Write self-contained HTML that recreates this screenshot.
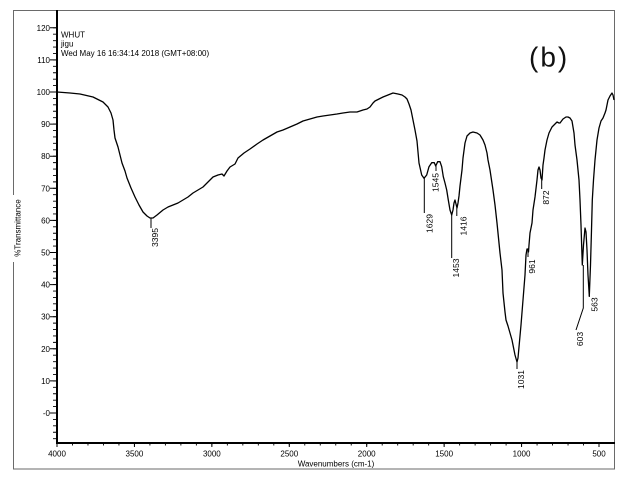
<!DOCTYPE html>
<html><head><meta charset="utf-8"><style>
html,body{margin:0;padding:0;background:#fff;width:627px;height:482px;overflow:hidden}
svg{display:block}
text{font-family:"Liberation Sans",Arial,sans-serif;fill:#000}
</style></head><body>
<svg width="627" height="482" viewBox="0 0 627 482" xmlns="http://www.w3.org/2000/svg">
<rect x="0" y="0" width="627" height="482" fill="#fff"/>
<rect x="13.5" y="10.5" width="601" height="458.5" fill="none" stroke="#6a6a6a" stroke-width="1"/>
<!-- y label background over border -->
<rect x="10" y="195" width="14" height="67" fill="#fff"/>
<text transform="translate(18,228) rotate(-90)" text-anchor="middle" dominant-baseline="central" font-size="8">%Transmittance</text>

<!-- axes -->
<line x1="57" y1="10" x2="57" y2="444" stroke="#000" stroke-width="2"/>
<line x1="56" y1="443" x2="615" y2="443" stroke="#000" stroke-width="2"/>

<!-- y minor ticks -->
<path fill="none" stroke="#000" stroke-width="0.9" d="M53,438.68h4m-4-6.42h4m-4-6.42h4m-4-6.42h4m-4-6.42h4m-4-6.42h4m-4-6.42h4m-4-6.42h4m-4-6.42h4m-4-6.42h4m-4-6.42h4m-4-6.42h4m-4-6.42h4m-4-6.42h4m-4-6.42h4m-4-6.42h4m-4-6.42h4m-4-6.42h4m-4-6.42h4m-4-6.42h4m-4-6.42h4m-4-6.42h4m-4-6.42h4m-4-6.42h4m-4-6.42h4m-4-6.42h4m-4-6.42h4m-4-6.42h4m-4-6.42h4m-4-6.42h4m-4-6.42h4m-4-6.42h4m-4-6.42h4m-4-6.42h4m-4-6.42h4m-4-6.42h4m-4-6.42h4m-4-6.42h4m-4-6.42h4m-4-6.42h4m-4-6.42h4m-4-6.42h4m-4-6.42h4m-4-6.42h4m-4-6.42h4m-4-6.42h4m-4-6.42h4m-4-6.42h4m-4-6.42h4m-4-6.42h4m-4-6.42h4m-4-6.42h4m-4-6.42h4m-4-6.42h4m-4-6.42h4m-4-6.42h4m-4-6.42h4m-4-6.42h4m-4-6.42h4m-4-6.42h4m-4-6.42h4m-4-6.42h4m-4-6.42h4m-4-6.42h4m-4-6.42h4"/>
<!-- y major ticks -->
<path fill="none" stroke="#000" stroke-width="1" d="M50,413h7M50,380.9h7M50,348.8h7M50,316.7h7M50,284.6h7M50,252.5h7M50,220.4h7M50,188.3h7M50,156.2h7M50,124.1h7M50,92h7M50,59.9h7M50,27.8h7"/>
<g font-size="8" text-anchor="end">
<text x="50" y="416">-0</text>
<text x="50" y="383.9">10</text>
<text x="50" y="351.8">20</text>
<text x="50" y="319.7">30</text>
<text x="50" y="287.6">40</text>
<text x="50" y="255.5">50</text>
<text x="50" y="223.4">60</text>
<text x="50" y="191.3">70</text>
<text x="50" y="159.2">80</text>
<text x="50" y="127.1">90</text>
<text x="50" y="95">100</text>
<text x="50" y="62.9">110</text>
<text x="50" y="30.8">120</text>
</g>

<!-- x minor ticks -->
<path fill="none" stroke="#000" stroke-width="0.9" d="M57,443v2.5m15.486-2.5v2.5m15.486-2.5v2.5m15.486-2.5v2.5m15.486-2.5v2.5m15.486-2.5v2.5m15.486-2.5v2.5m15.486-2.5v2.5m15.486-2.5v2.5m15.486-2.5v2.5m15.486-2.5v2.5m15.486-2.5v2.5m15.486-2.5v2.5m15.486-2.5v2.5m15.486-2.5v2.5m15.486-2.5v2.5m15.486-2.5v2.5m15.486-2.5v2.5m15.486-2.5v2.5m15.486-2.5v2.5m15.486-2.5v2.5m15.486-2.5v2.5m15.486-2.5v2.5m15.486-2.5v2.5m15.486-2.5v2.5m15.486-2.5v2.5m15.486-2.5v2.5m15.486-2.5v2.5m15.486-2.5v2.5m15.486-2.5v2.5m15.486-2.5v2.5m15.486-2.5v2.5m15.486-2.5v2.5m15.486-2.5v2.5m15.486-2.5v2.5"/>
<path fill="none" stroke="#000" stroke-width="1" d="M57,443v4M134.43,443v4M211.86,443v4M289.29,443v4M366.71,443v4M444.14,443v4M521.57,443v4M599,443v4"/>
<g font-size="8" text-anchor="middle">
<text x="57" y="456.5">4000</text>
<text x="134.43" y="456.5">3500</text>
<text x="211.86" y="456.5">3000</text>
<text x="289.29" y="456.5">2500</text>
<text x="366.71" y="456.5">2000</text>
<text x="444.14" y="456.5">1500</text>
<text x="521.57" y="456.5">1000</text>
<text x="599" y="456.5">500</text>
<text x="336" y="466.5">Wavenumbers (cm-1)</text>
</g>

<!-- header -->
<g font-size="8">
<text x="61" y="37.3">WHUT</text>
<text x="61" y="46.7">jigu</text>
<text x="61" y="56">Wed May 16 16:34:14 2018 (GMT+08:00)</text>
</g>
<text x="529" y="66.5" font-size="28" letter-spacing="2" style="fill:#111">(b)</text>

<!-- spectrum -->
<polyline fill="none" stroke="#000" stroke-width="1.3" stroke-linejoin="round" points="57,92 70,93 80,94 93,97 103,102 108,107 111,113 113,120 114,130 115,138 117,144 118,147 120,155 122,163 125,171 127,178 131,188 135,197 139,205 143,212 147,216 150,218 153,218 157,215 163,210 168,207 173,205 178,203 183,200 188,197 193,193 198,190 203,187 208,182 213,177 218,175 222,174 224,176 227,171 230,167 235,164 238,158 244,153 250,149 257,144 263,140 270,136 277,132 283,130 290,127 297,124 303,121 310,119 317,117 323,116 330,115 337,114 343,113 350,112 357,112 363,110 367,109 370,107 373,103 375,101 379,99 383,97 388,95 393,93 398,94 402,95 405,97 407,99 409,104 411,110 413,120 415,130 417,141 419,163 421.7,175 424,178.3 426.7,175 429,166.7 431.7,162.7 434.3,162.7 435.7,166 437.7,161.7 440,161.7 441.7,166.7 443.3,176.7 445,183 446.7,190 448.3,200 450,210 451.7,215 453,210 454,203 455,200 456,204 457,208 458,203 459,196 460,186 462,170 463,158 465,143 467,136 470,133 473,132 477,133 480,135 483,140 485,145 487,153 488,160 490,170 493,190 495,205 497,223 500,253 502,270 503,293 505,312 506,320 508,326 510,333 512,340 515,355 517,362 518,358 519,347 521,325 523,300 525,275 526,255 527,249 528,249 528.5,252 529,245 530,233 532,223 533,210 535,197 537,180 538,170 539,167 540,170 541,178 542,180 543,165 544,158 545,150 547,140 549,133 552,127 555,124 557,122 559,123 560,123 563,119 566,117 568,117 570,118 572,121 574,133 575,145 577,160 579,180 580,200 581,225 582.3,265 583.5,245 585,228 586,232 587,250 588,275 589.3,296 590.5,265 591.5,230 592.3,200 593.5,180 595,160 597,140 599,128 601,121 603,118 605,113 606,110 608,100 610,96 612,93 613,95 614,100"/>

<!-- peak marker lines -->
<path fill="none" stroke="#000" stroke-width="1" d="M151,218V228M424.3,178V213M436,166V171M451.7,215V258M456.8,208V216M528,249V257M541.7,180V189M517,362V369M583.3,265V308L576,330M589.3,295V297"/>

<g font-size="8.5" text-anchor="middle" dominant-baseline="central">
<text transform="translate(155,237.5) rotate(-90)">3395</text>
<text transform="translate(429.5,223.5) rotate(-90)">1629</text>
<text transform="translate(435.5,182.5) rotate(-90)">1545</text>
<text transform="translate(456,268) rotate(-90)">1453</text>
<text transform="translate(463.5,226) rotate(-90)">1416</text>
<text transform="translate(532,266.5) rotate(-90)">961</text>
<text transform="translate(546,197.5) rotate(-90)">872</text>
<text transform="translate(521,379.5) rotate(-90)">1031</text>
<text transform="translate(580,339) rotate(-90)">603</text>
<text transform="translate(594.5,304.5) rotate(-90)">563</text>
</g>
</svg>
</body></html>
